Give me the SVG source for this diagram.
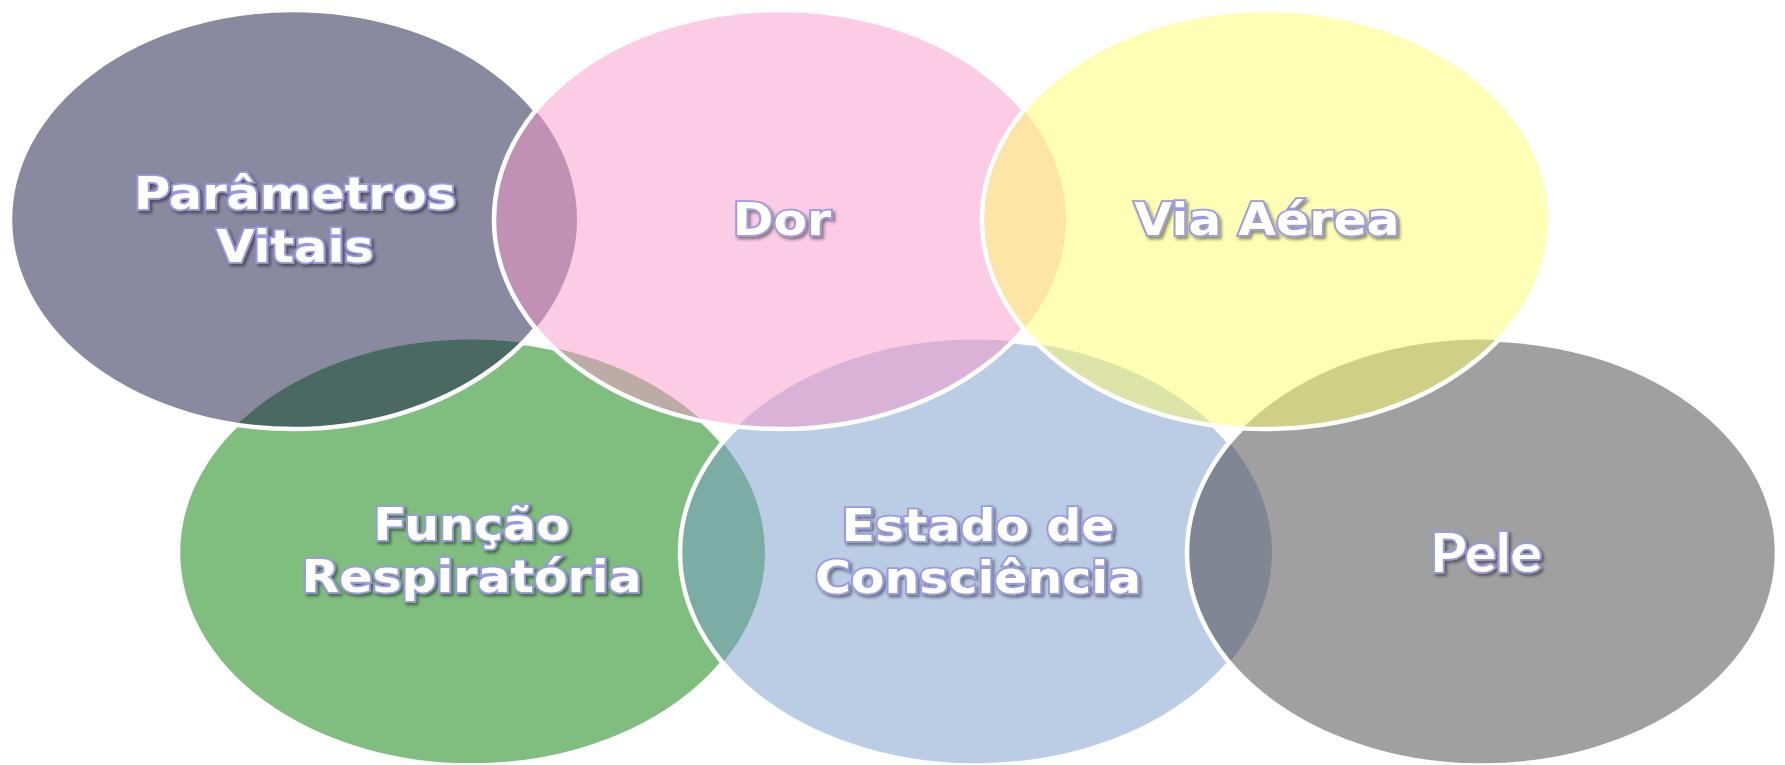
<svg xmlns="http://www.w3.org/2000/svg" width="1785" height="765" viewBox="0 0 1785 765">
<style>
.fill{fill-opacity:0.5;stroke:none}
.edge{fill:none;stroke:#ffffff;stroke-width:4.5}
.lbl{font-family:"DejaVu Sans",Verdana,sans-serif;font-weight:bold;font-size:44.5px;fill:#ffffff;stroke:#9a9ae2;stroke-width:3.6;paint-order:stroke;text-anchor:middle;filter:url(#shadow)}
.lato{font-family:Lato,"Open Sans",sans-serif;font-size:54px}
</style>
<defs>
<filter id="shadow" x="-10%" y="-30%" width="130%" height="170%">
<feDropShadow dx="2" dy="2.5" stdDeviation="1.5" flood-color="#000000" flood-opacity="0.45"/>
</filter>
<ellipse id="e-par" cx="293.5" cy="219.5" rx="283.5" ry="209.5"/>
<ellipse id="e-dor" cx="780" cy="219.5" rx="286" ry="209.5"/>
<ellipse id="e-via" cx="1266" cy="219.5" rx="284" ry="209.5"/>
<ellipse id="e-fun" cx="471.5" cy="552.5" rx="293.5" ry="213"/>
<ellipse id="e-est" cx="976" cy="552.5" rx="296" ry="213"/>
<ellipse id="e-pele" cx="1482" cy="552.5" rx="295" ry="213"/>
<mask id="m-fun" maskUnits="userSpaceOnUse" x="0" y="0" width="1785" height="765">
<rect width="1785" height="765" fill="#ffffff"/>
<use href="#e-par" fill="#000000"/><use href="#e-dor" fill="#000000"/><use href="#e-est" fill="#000000"/>
</mask>
<mask id="m-par" maskUnits="userSpaceOnUse" x="0" y="0" width="1785" height="765">
<rect width="1785" height="765" fill="#ffffff"/>
<use href="#e-dor" fill="#000000"/>
</mask>
<mask id="m-est" maskUnits="userSpaceOnUse" x="0" y="0" width="1785" height="765">
<rect width="1785" height="765" fill="#ffffff"/>
<use href="#e-pele" fill="#000000"/><use href="#e-dor" fill="#000000"/><use href="#e-via" fill="#000000"/>
</mask>
<mask id="m-pele" maskUnits="userSpaceOnUse" x="0" y="0" width="1785" height="765">
<rect width="1785" height="765" fill="#ffffff"/>
<use href="#e-via" fill="#000000"/>
</mask>
<mask id="m-dor" maskUnits="userSpaceOnUse" x="0" y="0" width="1785" height="765">
<rect width="1785" height="765" fill="#ffffff"/>
<use href="#e-via" fill="#000000"/>
</mask>
</defs>
<rect width="1785" height="765" fill="#ffffff"/>
<g id="connectors"></g>
<g id="node-funcao">
<use href="#e-fun" class="fill" fill="#017d01"/>
<use href="#e-fun" class="edge" mask="url(#m-fun)"/>
<text class="lbl" transform="translate(471.5 0) scale(1.1 1)"><tspan x="0" y="540">Função</tspan><tspan x="0" y="592">Respiratória</tspan></text>
</g>
<g id="node-parametros">
<use href="#e-par" class="fill" fill="#131341"/>
<use href="#e-par" class="edge" mask="url(#m-par)"/>
<text class="lbl" transform="translate(295 0) scale(1.11 1)"><tspan x="0" y="209">Parâmetros</tspan><tspan x="0" y="262">Vitais</tspan></text>
</g>
<g id="node-estado">
<use href="#e-est" class="fill" fill="#759bc9"/>
<use href="#e-est" class="edge" mask="url(#m-est)"/>
<text class="lbl" transform="translate(978 0) scale(1.1 1)"><tspan x="0" y="541">Estado de</tspan><tspan x="0" y="593">Consciência</tspan></text>
</g>
<g id="node-pele">
<use href="#e-pele" class="fill" fill="#414141"/>
<use href="#e-pele" class="edge" mask="url(#m-pele)"/>
<text class="lbl lato" transform="translate(1486 0) scale(1.08 1)"><tspan x="0" y="572">Pele</tspan></text>
</g>
<g id="node-dor">
<use href="#e-dor" class="fill" fill="#f997c9"/>
<use href="#e-dor" class="edge" mask="url(#m-dor)"/>
<text class="lbl" transform="translate(782 0) scale(1.1 1)"><tspan x="0" y="235">Dor</tspan></text>
</g>
<g id="node-via">
<use href="#e-via" class="fill" fill="#fdfd69"/>
<use href="#e-via" class="edge"/>
<text class="lbl" transform="translate(1267 0) scale(1.1 1)"><tspan x="0" y="235">Via Aérea</tspan></text>
</g>
</svg>
